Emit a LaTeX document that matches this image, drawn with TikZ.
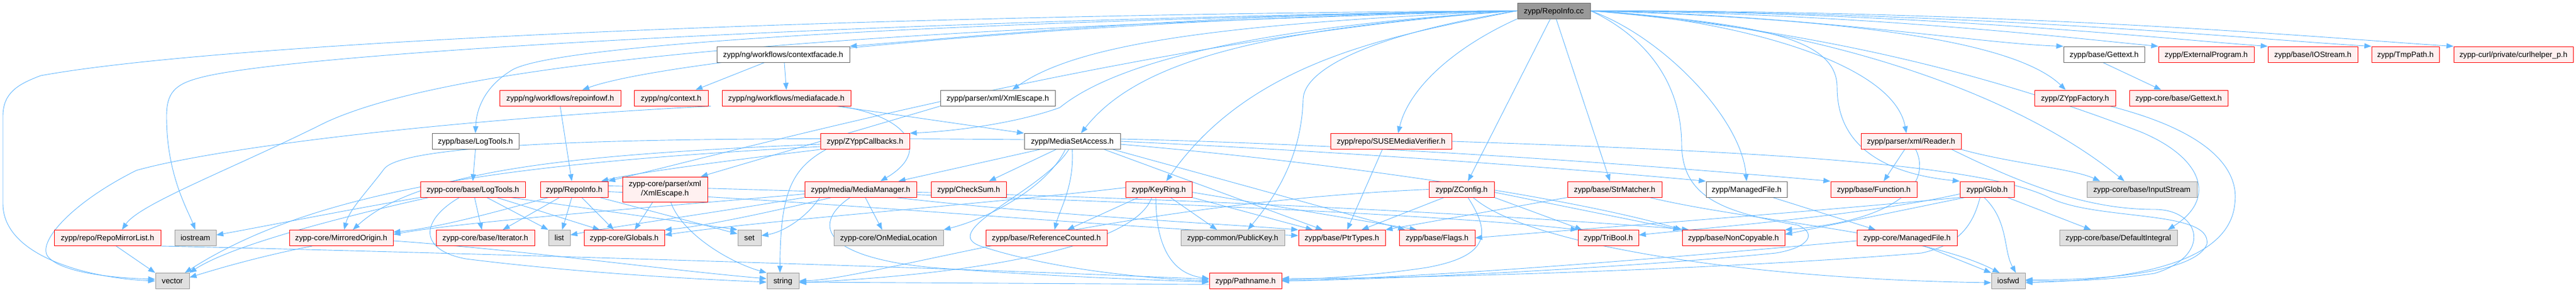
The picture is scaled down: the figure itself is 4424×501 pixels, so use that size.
\documentclass[tikz,border=0pt]{standalone}
\usepackage{fontspec}
\setmainfont{Liberation Sans}
\usetikzlibrary{arrows.meta}
\definecolor{edgec}{HTML}{63B8FF}
\definecolor{redfill}{HTML}{FFF0F0}
\definecolor{reddraw}{HTML}{FF0000}
\definecolor{grayfill}{HTML}{E0E0E0}
\definecolor{graydraw}{HTML}{999999}
\definecolor{whitedraw}{HTML}{666666}
\definecolor{rootfill}{HTML}{999999}
\pgfdeclarelayer{bottom}
\pgfdeclarelayer{background}
\pgfsetlayers{bottom,background,main}
\tikzset{
  box/.style={line width=1pt, minimum height=27pt, inner sep=0pt, text height=12pt, text depth=2.4pt,
              font=\fontsize{13.3}{16}\selectfont, text=black},
  rbox/.style={box, draw=reddraw, fill=redfill},
  gbox/.style={box, draw=graydraw, fill=grayfill},
  wbox/.style={box, draw=whitedraw, fill=white},
  rootbox/.style={box, draw=whitedraw, fill=rootfill},
  e/.style={draw=edgec, line width=0.9pt, -{Triangle[length=12pt,width=9pt]}}
}
\begin{document}
\begin{tikzpicture}[x=1pt,y=-1pt]
\useasboundingbox (0,0) rectangle (4424,501);
\begin{pgfonlayer}{bottom}
\fill[white] (0,0) rectangle (4424,501);
\end{pgfonlayer}
% nodes
\node[rootbox, minimum width=125pt] (root) at (2668.5,18.5) {zypp/RepoInfo.cc};
\node[wbox, minimum width=228pt] (cfacade) at (1345,93.5) {zypp/ng/workflows/contextfacade.h};
\node[wbox, minimum width=139pt] (gettext) at (3613.5,93.5) {zypp/base/Gettext.h};
\node[rbox, minimum width=164pt] (extprog) at (3789,93.5) {zypp/ExternalProgram.h};
\node[rbox, minimum width=154pt] (iostreamh) at (3972,93.5) {zypp/base/IOStream.h};
\node[rbox, minimum width=116pt] (tmppath) at (4131,93.5) {zypp/TmpPath.h};
\node[rbox, minimum width=205pt] (curl) at (4316.5,93.5) {zypp-curl/private/curlhelper\_p.h};
\node[rbox, minimum width=208pt] (repoinfowf) at (962,168.5) {zypp/ng/workflows/repoinfowf.h};
\node[rbox, minimum width=127pt] (context) at (1152.5,168.5) {zypp/ng/context.h};
\node[rbox, minimum width=221pt] (mediafacade) at (1350.5,168.5) {zypp/ng/workflows/mediafacade.h};
\node[wbox, minimum width=197pt] (pxmlesc) at (1713.5,168.5) {zypp/parser/xml/XmlEscape.h};
\node[rbox, minimum width=139pt] (zyppfactory) at (3563.5,168.5) {zypp/ZYppFactory.h};
\node[rbox, minimum width=169pt] (coregettext) at (3741.5,168.5) {zypp-core/base/Gettext.h};
\node[wbox, minimum width=149pt] (baselogtools) at (816.5,243) {zypp/base/LogTools.h};
\node[rbox, minimum width=153pt] (callbacks) at (1485.5,243) {zypp/ZYppCallbacks.h};
\node[wbox, minimum width=165pt] (msa) at (1841.5,243) {zypp/MediaSetAccess.h};
\node[rbox, minimum width=208pt] (suse) at (2389,243) {zypp/repo/SUSEMediaVerifier.h};
\node[rbox, minimum width=172pt] (reader) at (3282,243) {zypp/parser/xml/Reader.h};
\node[rbox, minimum width=180pt] (corelogtools) at (812,325.5) {zypp-core/base/LogTools.h};
\node[rbox, minimum width=116pt] (repoinfoh) at (986,325.5) {zypp/RepoInfo.h};
\node[draw=reddraw, fill=redfill, line width=1pt, minimum width=146pt, minimum height=43pt, inner sep=0pt,
      align=center, font=\fontsize{13.3}{16}\selectfont] (corexmlesc) at (1142,325.5) {zypp-core/parser/xml\\/XmlEscape.h};
\node[rbox, minimum width=192pt] (mediamanager) at (1478,325.5) {zypp/media/MediaManager.h};
\node[rbox, minimum width=129pt] (checksum) at (1663.5,325.5) {zypp/CheckSum.h};
\node[rbox, minimum width=114pt] (keyring) at (1990,325.5) {zypp/KeyRing.h};
\node[rbox, minimum width=112pt] (zconfig) at (2510,325.5) {zypp/ZConfig.h};
\node[rbox, minimum width=162pt] (strmatcher) at (2773,325.5) {zypp/base/StrMatcher.h};
\node[wbox, minimum width=139pt] (managedfile) at (2999.5,325.5) {zypp/ManagedFile.h};
\node[rbox, minimum width=148pt] (function) at (3218,325.5) {zypp/base/Function.h};
\node[rbox, minimum width=93pt] (glob) at (3412.5,325.5) {zypp/Glob.h};
\node[gbox, minimum width=189pt] (inputstream) at (3678.5,325.5) {zypp-core/base/InputStream};
\node[rbox, minimum width=183pt] (repomirror) at (184.5,409) {zypp/repo/RepoMirrorList.h};
\node[gbox, minimum width=71pt] (iostream) at (335.5,409) {iostream};
\node[rbox, minimum width=178pt] (mirrored) at (586,409) {zypp-core/MirroredOrigin.h};
\node[rbox, minimum width=169pt] (iterator) at (833.5,409) {zypp-core/base/Iterator.h};
\node[gbox, minimum width=37pt] (list) at (960.5,409) {list};
\node[rbox, minimum width=138pt] (globals) at (1072,409) {zypp-core/Globals.h};
\node[gbox, minimum width=40pt] (set) at (1287,409) {set};
\node[gbox, minimum width=188pt] (onmedia) at (1526,409) {zypp-core/OnMediaLocation};
\node[rbox, minimum width=208pt] (refcount) at (1797,409) {zypp/base/ReferenceCounted.h};
\node[gbox, minimum width=178pt] (publickey) at (2117,409) {zypp-common/PublicKey.h};
\node[rbox, minimum width=149pt] (ptrtypes) at (2304.5,409) {zypp/base/PtrTypes.h};
\node[rbox, minimum width=130pt] (flags) at (2468,409) {zypp/base/Flags.h};
\node[rbox, minimum width=104pt] (tribool) at (2762,409) {zypp/TriBool.h};
\node[rbox, minimum width=176pt] (noncopy) at (2977,409) {zypp/base/NonCopyable.h};
\node[rbox, minimum width=172pt] (coremanaged) at (3275,409) {zypp-core/ManagedFile.h};
\node[gbox, minimum width=202pt] (defint) at (3638,409) {zypp-core/base/DefaultIntegral};
\node[gbox, minimum width=58pt] (vector) at (296,483) {vector};
\node[gbox, minimum width=55pt] (string) at (1344.5,483) {string};
\node[rbox, minimum width=124pt] (pathname) at (2139,483) {zypp/Pathname.h};
\node[gbox, minimum width=58pt] (iosfwd) at (3449,483) {iosfwd};
% edges
\begin{pgfonlayer}{background}
% from root
\draw[e] (root.west) .. controls (1500,25) and (400,70) .. (70,130) .. controls (30,145) and (5,160) .. (5,200) -- (5,350) .. controls (5,440) and (150,478) .. (vector.west);
\draw[e] (root.west) .. controls (1500,35) and (500,90) .. (342,134) .. controls (300,145) and (286,160) .. (286,200) .. controls (286,300) and (322,360) .. (iostream.north);
\draw[e] (root.west) .. controls (1500,50) and (800,100) .. (560,210) .. controls (400,290) and (240,350) .. ([xshift=25]repomirror.north);
\draw[e] (root.west) .. controls (2100,22) and (1700,60) .. (cfacade.north east);
\draw[e] (root.west) .. controls (1900,30) and (1150,100) .. ([xshift=38]repoinfowf.north);
\draw[e] (root.west) .. controls (1500,40) and (950,80) .. (880,120) .. controls (830,150) and (818,190) .. (baselogtools.north);
\draw[e] (root.west) .. controls (2100,40) and (1850,75) .. ([xshift=25]pxmlesc.north);
\draw[e] (root.west) .. controls (2100,50) and (1900,120) .. (1820,185) .. controls (1750,210) and (1650,225) .. (callbacks.north east);
\draw[e] (root.west) .. controls (2150,50) and (1950,110) .. ([xshift=15]msa.north);
\draw[e] (root.west) .. controls (2400,60) and (2150,100) .. ([xshift=13]keyring.north);
\draw[e] (root.west) .. controls (2000,60) and (1300,250) .. (repoinfoh.north east);
\draw[e] (root.west) .. controls (2350,60) and (2240,120) .. (2238,170) .. controls (2235,280) and (2180,350) .. ([xshift=26]publickey.north);
\draw[e] (root.south west) .. controls (2500,80) and (2420,150) .. ([xshift=12]suse.north);
\draw[e] ([xshift=-6]root.south) -- ([xshift=11]zconfig.north);
\draw[e] ([xshift=4]root.south) -- ([xshift=-8]strmatcher.north);
\draw[e] (root.east) .. controls (2850,60) and (2990,200) .. (managedfile.north);
\draw[e] (root.east) .. controls (2800,50) and (2888,120) .. (2888,250) .. controls (2890,340) and (2960,365) .. (3087,387) .. controls (3120,400) and (3110,425) .. (3050,435) .. controls (2800,460) and (2400,480) .. (pathname.east);
\draw[e] (root.east) .. controls (2950,30) and (3250,100) .. ([xshift=-8]reader.north);
\draw[e] (root.east) .. controls (3000,40) and (3155,60) .. (3155,150) .. controls (3155,260) and (3250,300) .. (glob.north west);
\draw[e] (root.east) .. controls (3100,40) and (3450,150) .. ([xshift=-30]inputstream.north);
\draw[e] (root.east) .. controls (3100,50) and (3400,120) .. (3677,227) .. controls (3780,270) and (3810,340) .. ([xshift=85]defint.north);
\draw[e] (root.east) .. controls (3100,30) and (3450,60) .. ([xshift=-16]zyppfactory.north);
\draw[e] (root.east) .. controls (3100,25) and (3400,75) .. (gettext.north west);
\draw[e] (root.east) .. controls (3200,22) and (3600,70) .. (extprog.north west);
\draw[e] (root.east) .. controls (3300,20) and (3750,70) .. (iostreamh.north west);
\draw[e] (root.east) .. controls (3400,20) and (3900,70) .. (tmppath.north west);
\draw[e] (root.east) .. controls (3500,18) and (4050,70) .. (curl.north west);
% second level
\draw[e] ([xshift=-32]cfacade.south) -- ([xshift=42]context.north);
\draw[e] ([xshift=2]cfacade.south) -- (mediafacade.north);
\draw[e] ([xshift=-2]gettext.south) -- ([xshift=-30]coregettext.north);
\draw[e] ([xshift=-25]mediafacade.south east) -- (msa.north west);
\draw[e] ([xshift=-130]mediafacade.south) .. controls (700,210) and (350,260) .. (234,293) .. controls (120,350) and (60,420) .. (84,443) .. controls (110,470) and (200,478) .. ([yshift=3]vector.west);
\draw[e] ([xshift=-20]mediafacade.south east) .. controls (1560,200) and (1600,260) .. ([xshift=34]mediamanager.north);
\draw[e] (repoinfowf.south) -- ([xshift=-4]repoinfoh.north);
\draw[e] (baselogtools.south) -- (corelogtools.north);
\draw[e] (pxmlesc.south west) -- ([xshift=-12]corexmlesc.north east);
\draw[e] ([xshift=-21]corexmlesc.south) -- ([xshift=18]globals.north);
\draw[e] ([xshift=10]corexmlesc.south) .. controls (1170,400) and (1250,450) .. (string.north west);
% core logtools
\draw[e] (corelogtools.south west) .. controls (600,360) and (450,390) .. ([yshift=5]iostream.east);
\draw[e] ([xshift=15]corelogtools.south west) .. controls (600,370) and (400,420) .. (vector.north east);
\draw[e] ([xshift=3]corelogtools.south) -- ([xshift=-6]iterator.north);
\draw[e] ([xshift=24]corelogtools.south) -- (list.north west);
\draw[e] ([xshift=41]corelogtools.south) -- ([xshift=-42]globals.north);
\draw[e] ([xshift=65]corelogtools.south) -- (set.north west);
\draw[e] ([xshift=-23]corelogtools.south) .. controls (720,380) and (720,430) .. (800,445) .. controls (1000,470) and (1200,480) .. ([yshift=-2]string.west);
% RepoInfo.h
\draw[e] ([xshift=-44]repoinfoh.south) .. controls (850,365) and (750,392) .. ([yshift=-4]mirrored.north east);
\draw[e] ([xshift=-25]repoinfoh.south) -- ([xshift=30]iterator.north);
\draw[e] ([xshift=-4]repoinfoh.south) -- ([xshift=5]list.north);
\draw[e] ([xshift=13]repoinfoh.south) -- ([xshift=-18]globals.north);
\draw[e] ([xshift=44]repoinfoh.south) -- ([yshift=-7]set.north west);
\draw[e] ([yshift=-4]repoinfoh.east) .. controls (1400,345) and (1900,390) .. ([yshift=4]ptrtypes.west);
\draw[e] ([yshift=6]repoinfoh.east) .. controls (1500,330) and (2400,360) .. (tribool.north west);
% callbacks
\draw[e] (callbacks.south west) .. controls (1300,270) and (1100,295) .. ([xshift=-12]repoinfoh.north east);
\draw[e] ([yshift=-5]callbacks.west) .. controls (1000,265) and (720,290) .. ([xshift=20]mirrored.north);
\draw[e] ([xshift=10]callbacks.south west) .. controls (1360,290) and (1340,330) .. ([xshift=-5]string.north);
\draw[e] ([yshift=-9]callbacks.west) .. controls (900,280) and (550,320) .. ([xshift=-8]vector.north east);
% MediaSetAccess
\draw[e] ([xshift=-56]msa.south) -- ([xshift=65]mediamanager.north);
\draw[e] ([xshift=-28]msa.south) -- ([xshift=35]checksum.north);
\draw[e] ([xshift=-12]msa.south) .. controls (1800,320) and (1700,375) .. (onmedia.north east);
\draw[e] (msa.south) .. controls (1845,320) and (1820,360) .. ([xshift=14]refcount.north);
\draw[e] ([xshift=-6]msa.south) .. controls (1790,330) and (1600,400) .. (1690,425) .. controls (1800,460) and (1950,478) .. (pathname.west);
\draw[e] ([xshift=55]msa.south) -- ([xshift=-33]ptrtypes.north);
\draw[e] ([xshift=70]msa.south) -- ([xshift=-55]flags.north);
\draw[e] ([yshift=-5]msa.east) .. controls (2300,280) and (2700,340) .. (noncopy.north west);
\draw[e] (msa.east) .. controls (2300,260) and (2700,290) .. (managedfile.north west);
\draw[e] ([yshift=4]msa.east) .. controls (2400,250) and (2900,290) .. (function.north west);
\draw[e] ([yshift=3]msa.west) .. controls (1200,235) and (700,240) .. (660,290) .. controls (630,330) and (600,360) .. ([xshift=5]mirrored.north);
% KeyRing
\draw[e] ([xshift=-35]keyring.south) -- ([xshift=36]refcount.north);
\draw[e] ([xshift=20]keyring.south) -- ([xshift=-27]publickey.north);
\draw[e] (keyring.south east) -- ([xshift=-50]ptrtypes.north);
\draw[e] ([yshift=-5]keyring.east) -- ([xshift=-35]flags.north);
\draw[e] ([xshift=-5]keyring.south) .. controls (1985,420) and (2010,470) .. ([yshift=4]pathname.west);
\draw[e] ([xshift=-12]keyring.south) .. controls (1950,420) and (1700,470) .. ([yshift=-3]string.east);
\draw[e] ([yshift=3]keyring.west) .. controls (1700,350) and (1300,380) .. ([yshift=5]globals.east);
% ZConfig
\draw[e] ([xshift=-30]zconfig.south) -- ([xshift=34]ptrtypes.north);
\draw[e] (zconfig.south east) -- ([xshift=-45]tribool.north);
\draw[e] ([yshift=-5]zconfig.east) -- ([xshift=-3]noncopy.north west);
\draw[e] ([xshift=11]zconfig.south) .. controls (2560,400) and (2560,440) .. (2450,460) .. controls (2350,475) and (2250,480) .. ([yshift=2]pathname.east);
\draw[e] ([xshift=20]zconfig.south) .. controls (2620,420) and (3000,480) .. ([yshift=-3]iosfwd.west);
\draw[e] (zconfig.west) .. controls (1900,350) and (1500,480) .. (string.east);
% StrMatcher
\draw[e] (strmatcher.south west) -- (ptrtypes.north east);
\draw[e] ([xshift=60]strmatcher.south) .. controls (3000,380) and (3300,400) .. ([xshift=-15]iosfwd.north);
% SUSEMediaVerifier
\draw[e] ([xshift=-15]suse.south) -- ([xshift=9]ptrtypes.north);
\draw[e] (suse.east) .. controls (3000,260) and (3400,280) .. (3520,340) .. controls (3600,380) and (3800,360) .. (3790,420) .. controls (3770,470) and (3600,482) .. ([yshift=2]iosfwd.east);
% ManagedFile
\draw[e] ([xshift=-25]managedfile.south east) -- ([xshift=-54]coremanaged.north);
\draw[e] ([xshift=30]coremanaged.south) -- (iosfwd.north west);
\draw[e] ([yshift=-5]coremanaged.west) .. controls (2900,440) and (2500,475) .. (pathname.east);
% Glob
\draw[e] ([xshift=-12]glob.south) .. controls (3390,380) and (3370,420) .. (3300,435) .. controls (3000,460) and (2500,478) .. ([yshift=4]pathname.east);
\draw[e] ([xshift=-38]glob.south) -- ([yshift=6]noncopy.east);
\draw[e] ([xshift=-5]glob.south) .. controls (3450,380) and (3440,430) .. ([xshift=13]iosfwd.north);
\draw[e] ([xshift=35]glob.south) -- ([xshift=-47]defint.north);
\draw[e] ([yshift=-8]glob.west) .. controls (3200,370) and (2950,390) .. ([yshift=5]tribool.east);
\draw[e] (glob.south west) .. controls (3100,365) and (2700,395) .. (flags.east);
% Reader
\draw[e] ([xshift=-11]reader.south) -- ([xshift=17]function.north);
\draw[e] (reader.south east) .. controls (3450,280) and (3560,290) .. ([xshift=-72]inputstream.north);
\draw[e] ([xshift=8]reader.south) .. controls (3320,320) and (3250,380) .. (noncopy.north east);
\draw[e] ([xshift=70]reader.south) .. controls (3500,330) and (3600,360) .. (3700,360) .. controls (3780,360) and (3800,440) .. (3700,470) .. controls (3600,485) and (3520,483) .. (iosfwd.east);
% ZYppFactory
\draw[e] ([xshift=60]zyppfactory.south) .. controls (3810,230) and (3845,300) .. (3838,350) .. controls (3830,440) and (3700,480) .. ([yshift=-3]iosfwd.east);
% MediaManager
\draw[e] ([xshift=8]mediamanager.south) -- ([xshift=-11]onmedia.north);
\draw[e] ([xshift=-18]mediamanager.south) .. controls (1400,380) and (1400,440) .. (1600,460) .. controls (1800,475) and (1950,480) .. ([yshift=-2]pathname.west);
\draw[e] ([xshift=60]mediamanager.south) .. controls (1800,370) and (2100,385) .. (ptrtypes.north west);
\draw[e] ([yshift=-5]mediamanager.east) .. controls (2000,340) and (2600,370) .. ([xshift=12]noncopy.north west);
\draw[e] ([yshift=-8]mediamanager.west) .. controls (1200,350) and (800,380) .. ([yshift=6]mirrored.east);
\draw[e] ([xshift=-50]mediamanager.south) .. controls (1300,370) and (1200,390) .. (globals.north east);
\draw[e] ([xshift=-70]mediamanager.south) .. controls (1380,380) and (1340,400) .. ([yshift=4]set.east);
\draw[e] (mediamanager.south west) .. controls (1200,370) and (1050,390) .. ([yshift=5]list.east);
% MirroredOrigin, RepoMirrorList, Pathname
\draw[e] ([xshift=-50]mirrored.south) .. controls (450,440) and (380,460) .. ([yshift=6]vector.east);
\draw[e] ([yshift=-5]mirrored.east) .. controls (900,430) and (1150,465) .. ([yshift=4]string.west);
\draw[e] ([xshift=15]repomirror.south) -- (vector.north west);
\draw[e] (repomirror.south east) .. controls (600,430) and (1500,455) .. ([yshift=3]pathname.west);
\draw[e] ([yshift=-6]pathname.west) -- ([yshift=-2]string.east);
\end{pgfonlayer}
\end{tikzpicture}
\end{document}
